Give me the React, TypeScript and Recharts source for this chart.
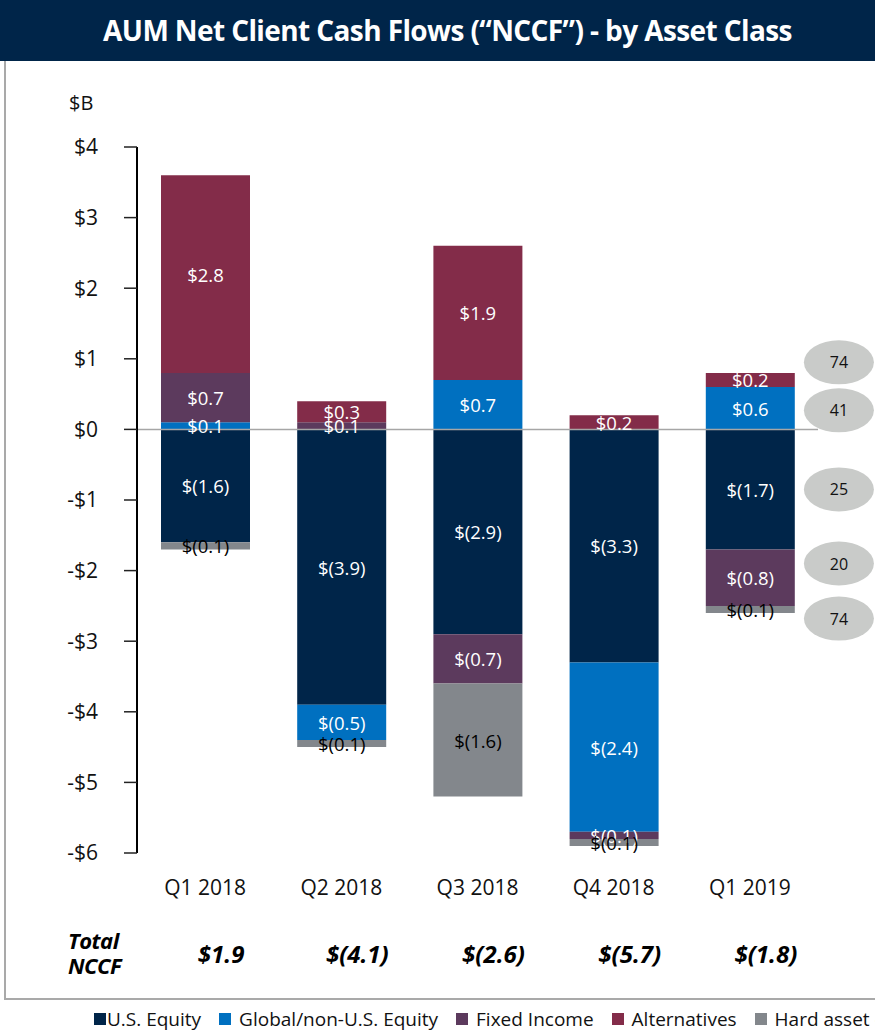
import { BarChart, Bar, XAxis, YAxis, ReferenceLine, ReferenceDot, LabelList, Legend } from 'recharts';

const quarters = ['Q1 2018', 'Q2 2018', 'Q3 2018', 'Q4 2018', 'Q1 2019'];
const usEquity = [-1.6, -3.9, -2.9, -3.3, -1.7];
const globalEquity = [0.1, -0.5, 0.7, -2.4, 0.6];
const fixedIncome = [0.7, 0.1, -0.7, -0.1, -0.8];
const alternatives = [2.8, 0.3, 1.9, 0.2, 0.2];
const hardAssets = [-0.1, -0.1, -1.6, -0.1, -0.1];
const totalNccf = [1.9, -4.1, -2.6, -5.7, -1.8];
const yTicks = [4, 3, 2, 1, 0, -1, -2, -3, -4, -5, -6];

// grey bubbles to the right of the last bar
const badgeValues = [74, 41, 25, 20, 74];
const badgeLevels = [0.95, 0.27, -0.85, -1.9, -2.68];

const FONT = '"Open Sans", sans-serif';
const NAVY = '#002549';

const series = [
  { key: 'us', name: 'U.S. Equity', color: NAVY, text: '#fff' },
  { key: 'global', name: 'Global/non-U.S. Equity', color: '#0070c0', text: '#fff' },
  { key: 'fixed', name: 'Fixed Income', color: '#5c3a5d', text: '#fff' },
  { key: 'alt', name: 'Alternatives', color: '#832c49', text: '#fff' },
  { key: 'hard', name: 'Hard asset opportunities', color: '#83878c', text: '#000' },
];

const data = quarters.map((q, i) => ({
  quarter: q,
  us: usEquity[i],
  global: globalEquity[i],
  fixed: fixedIncome[i],
  alt: alternatives[i],
  hard: hardAssets[i],
}));

const money = (v: number) =>
  v >= 0 ? `$${v.toFixed(1)}` : `$(${Math.abs(v).toFixed(1)})`;

const axisMoney = (v: number) => (v < 0 ? `-$${Math.abs(v)}` : `$${v}`);

function QuarterTick({ x, y, payload }: any) {
  return (
    <g>
      <text x={x} y={y + 42} textAnchor='middle' fontSize={21} fill='#111' fontFamily={FONT}>
        {payload.value}
      </text>
      <text
        x={x + 16}
        y={y + 110}
        textAnchor='middle'
        fontSize={24}
        fontWeight='bold'
        fontStyle='italic'
        fill='#000'
        fontFamily={FONT}
      >
        {money(totalNccf[payload.index])}
      </text>
    </g>
  );
}

function makeLabel(color: string) {
  return (props: any) => {
    const { x, y, width, height, value } = props;
    return (
      <text
        x={x + width / 2}
        y={y + height / 2}
        textAnchor='middle'
        dominantBaseline='central'
        fontSize={18.5}
        fill={color}
        fontFamily={FONT}
      >
        {money(value)}
      </text>
    );
  };
}

function Badge(label: number) {
  return (props: any) => (
    <g>
      <ellipse cx={props.cx + 89} cy={props.cy} rx={35} ry={22} fill='#c9cbc9' />
      <text
        x={props.cx + 89}
        y={props.cy}
        textAnchor='middle'
        dominantBaseline='central'
        fontSize={16}
        fill='#111'
        fontFamily={FONT}
      >
        {label}
      </text>
    </g>
  );
}

function LegendRow() {
  return (
    <div style={{ display: 'flex', whiteSpace: 'nowrap', fontFamily: FONT, fontSize: 19, color: '#111' }}>
      {series.map((s, i) => (
        <span key={s.key} style={{ display: 'inline-flex', alignItems: 'center', marginRight: 18 }}>
          <span
            style={{
              display: 'inline-block',
              width: 12,
              height: 12,
              background: s.color,
              marginRight: i === 0 ? 1 : 8,
            }}
          />
          {s.name}
        </span>
      ))}
    </div>
  );
}

export default function App() {
  return (
    <div
      style={{
        position: 'absolute',
        left: 0,
        top: 0,
        width: 875,
        height: 1032,
        overflow: 'hidden',
        background: '#fff',
        fontFamily: FONT,
      }}
    >
      <div
        style={{
          position: 'absolute',
          left: 0,
          top: 0,
          width: 875,
          height: 61,
          background: NAVY,
          color: '#fff',
          fontWeight: 'bold',
          fontSize: 28,
          lineHeight: '61px',
          textAlign: 'center',
          whiteSpace: 'nowrap',
          letterSpacing: -0.6,
          paddingLeft: 20,
          boxSizing: 'border-box',
        }}
      >
        AUM Net Client Cash Flows (“NCCF”) - by Asset Class
      </div>
      <div
        style={{
          position: 'absolute',
          left: 4,
          top: 61,
          width: 900,
          height: 937,
          borderLeft: '2px solid #a9a9a9',
          borderBottom: '2px solid #a9a9a9',
        }}
      />
      <div style={{ position: 'absolute', left: 69, top: 89, fontSize: 20, color: '#111' }}>$B</div>
      <div
        style={{
          position: 'absolute',
          left: 68,
          top: 928,
          fontSize: 22,
          fontWeight: 'bold',
          fontStyle: 'italic',
          lineHeight: '25px',
          color: '#000',
          letterSpacing: -0.5,
        }}
      >
        Total
        <br />
        NCCF
      </div>
      <BarChart
        width={875}
        height={1032}
        data={data}
        stackOffset='sign'
        margin={{ top: 147, right: 57, bottom: 59, left: 0 }}
        style={{ position: 'absolute', left: 0, top: 0 }}
      >
        <XAxis
          dataKey='quarter'
          axisLine={false}
          tickLine={false}
          tickSize={0}
          tickMargin={0}
          height={120}
          interval={0}
          tick={<QuarterTick />}
        />
        <YAxis
          width={137}
          domain={[-6, 4]}
          ticks={yTicks}
          interval={0}
          tickFormatter={axisMoney}
          tick={{ fontSize: 21, fill: '#111', fontFamily: FONT }}
          tickSize={13}
          tickMargin={26}
          axisLine={{ stroke: '#000', strokeWidth: 2 }}
          tickLine={{ stroke: '#222', strokeWidth: 1.5 }}
        />
        {series.map((s) => (
          <Bar key={s.key} dataKey={s.key} name={s.name} stackId='a' fill={s.color} barSize={89} isAnimationActive={false}>
            <LabelList dataKey={s.key} content={makeLabel(s.text)} />
          </Bar>
        ))}
        <ReferenceLine y={0} stroke='#a6a6a6' strokeWidth={1.5} />
        {badgeValues.map((b, i) => (
          <ReferenceDot
            key={i}
            x={quarters[4]}
            y={badgeLevels[i]}
            ifOverflow='visible'
            shape={Badge(b)}
          />
        ))}
        <Legend
          layout='vertical'
          align='center'
          verticalAlign='middle'
          content={<LegendRow />}
          wrapperStyle={{ top: 1006, left: 94, width: 'auto' }}
        />
      </BarChart>
    </div>
  );
}
